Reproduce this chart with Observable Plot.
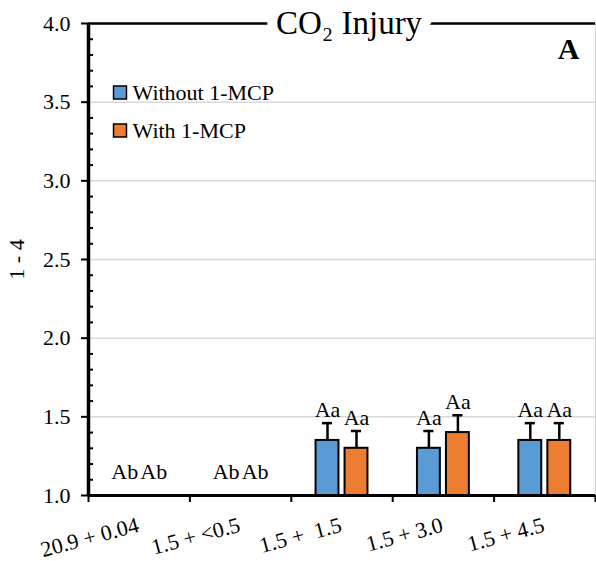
<!DOCTYPE html>
<html>
<head>
<meta charset="utf-8">
<script src="https://cdn.jsdelivr.net/npm/d3@7"></script>
<script src="https://cdn.jsdelivr.net/npm/@observablehq/plot@0.6"></script>
<style>
  body { margin: 0; background: #fff; }
  #chart svg { display: block; font-family: "Liberation Serif", "Times New Roman", serif !important; }
  #chart svg text { font-family: "Liberation Serif", "Times New Roman", serif !important; }
</style>
</head>
<body>
<div id="chart"></div>
<script>
// Storage treatments (O2 + CO2, kPa)
const treatments = ["20.9 + 0.04", "1.5 + <0.5", "1.5 +\u00a0 1.5", "1.5 + 3.0", "1.5 + 4.5"];
const seriesNames = ["Without 1-MCP", "With 1-MCP"];
const seriesColors = ["#5B9BD5", "#ED7D31"];

// Mean CO2 injury score (scale 1 - 4) and standard error
const withoutValues = [1.0, 1.0, 1.35, 1.30, 1.35];
const withoutErrors = [0, 0, 0.11, 0.11, 0.11];
const withValues = [1.0, 1.0, 1.30, 1.40, 1.35];
const withErrors = [0, 0, 0.11, 0.11, 0.11];

// Mean separation letters
const withoutLetters = ["Ab", "Ab", "Aa", "Aa", "Aa"];
const withLetters = ["Ab", "Ab", "Aa", "Aa", "Aa"];

const yTicks = [1.0, 1.5, 2.0, 2.5, 3.0, 3.5, 4.0];
const yMinorTicks = [1.1, 1.2, 1.3, 1.4, 1.6, 1.7, 1.8, 1.9, 2.1, 2.2, 2.3, 2.4, 2.6, 2.7, 2.8, 2.9, 3.1, 3.2, 3.3, 3.4, 3.6, 3.7, 3.8, 3.9];
const titleText = "CO\u2082 Injury";
const panelLetter = "A";
const yTitle = "1 - 4";

// Build one row per bar
const seriesData = [
  {values: withoutValues, errors: withoutErrors, letters: withoutLetters},
  {values: withValues, errors: withErrors, letters: withLetters}
];
const rows = treatments.flatMap((t, i) => seriesData.map((s, k) => ({
  treatment: t, index: i, k, series: seriesNames[k],
  value: s.values[i], err: s.errors[i], letter: s.letters[i]
})));

// Bar layout within each treatment slot (x units: one slot = 1)
const barWidth = 0.226, barGap = 0.06, capHalf = 0.05;
const center = d => d.index + 0.5 + (d.k === 0 ? -1 : 1) * (barGap / 2 + barWidth / 2);
const minLabelLevel = 1.065; // keeps letters of empty bars clear of the axis
const boundaries = d3.range(treatments.length + 1);
const serif = "Liberation Serif";
const small = 22;

const chart = Plot.plot({
  width: 596,
  height: 561,
  marginLeft: 88,
  marginRight: 1,
  marginTop: 23,
  marginBottom: 66,
  style: {fontFamily: serif, fontSize: "22px", color: "black", background: "white", overflow: "visible"},
  x: {domain: [0, treatments.length]},
  y: {domain: [1, 4]},
  color: {domain: seriesNames, range: seriesColors},
  marks: [
    Plot.ruleY(yTicks.filter(v => v > 1 && v < 4), {stroke: "#d9d9d9", strokeWidth: 1.5}),
    Plot.ruleX([treatments.length], {stroke: "#d0d0d0", strokeWidth: 1}),
    Plot.ruleY([4], {stroke: "black", strokeWidth: 2.5}),
    // bars
    Plot.rectY(rows.filter(d => d.value > 1), {
      x1: d => center(d) - barWidth / 2, x2: d => center(d) + barWidth / 2,
      y1: 1, y2: "value", fill: "series", stroke: "black", strokeWidth: 2
    }),
    // error bars
    Plot.ruleX(rows.filter(d => d.err > 0), {x: center, y1: "value", y2: d => d.value + d.err, stroke: "black", strokeWidth: 2.5}),
    Plot.ruleY(rows.filter(d => d.err > 0), {x1: d => center(d) - capHalf, x2: d => center(d) + capHalf, y: d => d.value + d.err, stroke: "black", strokeWidth: 2.5}),
    // letters
    Plot.text(rows, {x: center, y: d => Math.max(d.value + d.err, minLabelLevel), text: "letter", lineAnchor: "bottom", dy: -6, fontSize: small, fontFamily: serif}),
    // axes
    Plot.axisY({ticks: yTicks, tickSize: 7, tickPadding: 11, tickFormat: ".1f", label: null, strokeWidth: 2, fontSize: small, fontFamily: serif}),
    Plot.axisY({ticks: yMinorTicks, tickSize: 5, dx: 5, tickFormat: () => "", label: null, strokeWidth: 2}),
    Plot.axisX({ticks: boundaries, tickSize: 7, tickFormat: () => "", label: null, strokeWidth: 2}),
    Plot.ruleX([0], {stroke: "black", strokeWidth: 3.5}),
    Plot.ruleY([1], {stroke: "black", strokeWidth: 3}),
    // category labels
    Plot.text(treatments, {x: (d, i) => i + 0.5, y: 1, text: d => d, textAnchor: "end", lineAnchor: "middle", rotate: -15, dy: 29, dx: -1, fontSize: small, fontFamily: serif}),
    // legend
    ...seriesNames.map((name, k) => Plot.dot([name], {frameAnchor: "top-left", dx: 31.5, dy: 69 + 38 * k, symbol: "square", r: 7.3, fill: seriesColors[k], stroke: "black", strokeWidth: 1.5})),
    ...seriesNames.map((name, k) => Plot.text([name], {frameAnchor: "top-left", dx: 44, dy: 69 + 38 * k, textAnchor: "start", lineAnchor: "middle", fontSize: small, fontFamily: serif})),
    // titles
    Plot.text([titleText], {frameAnchor: "top", dx: 7, dy: 0, lineAnchor: "middle", fontSize: 33, fontFamily: serif, stroke: "white", strokeWidth: 20, fill: "black"}),
    Plot.text([panelLetter], {frameAnchor: "top-right", dx: -16, dy: 14, lineAnchor: "top", textAnchor: "end", fontSize: 30, fontWeight: "bold", fontFamily: serif}),
    Plot.text([yTitle], {frameAnchor: "left", dx: -72, rotate: -90, textAnchor: "middle", fontSize: small, fontFamily: serif})
  ]
});

document.getElementById("chart").append(chart);
</script>
</body>
</html>
